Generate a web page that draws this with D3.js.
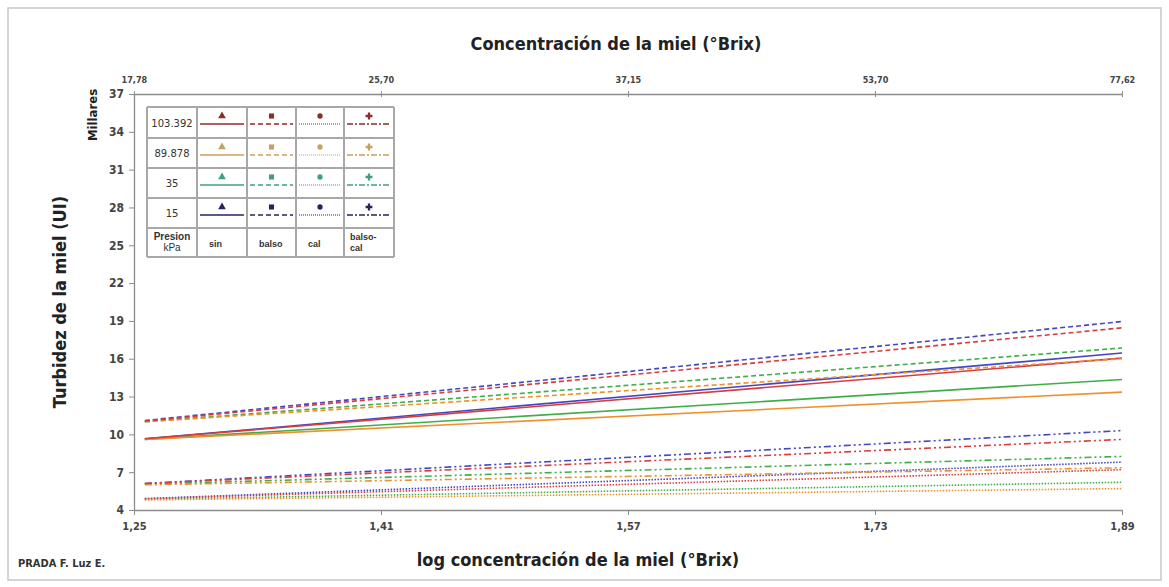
<!DOCTYPE html>
<html>
<head>
<meta charset="utf-8">
<script src="https://cdn.jsdelivr.net/npm/d3@7"></script>
<style>
  body { margin: 0; background: #fff; }
  svg { display: block; }
  text { font-family: "Liberation Sans Narrow", "DejaVu Sans Condensed", sans-serif; }
</style>
</head>
<body>
<svg id="chart"></svg>
<script>
// data (y in millares de UI)
var pressures = ["15", "35", "89.878", "103.392"];
var treatments = ["sin", "balso", "cal", "balso-cal"];
var xLogRange = [1.257, 1.89];
var sinValues = [[9.65, 16.45], [9.6, 14.35], [9.6, 13.35], [9.65, 16.05]];
var balsoValues = [[11.1, 18.95], [11.0, 16.85], [11.0, 16.0], [11.05, 18.45]];
var calValues = [[4.9, 7.8], [4.85, 6.2], [4.8, 5.7], [4.9, 7.2]];
var balsoCalValues = [[6.1, 10.3], [6.05, 8.25], [6.0, 7.35], [6.1, 9.6]];
var bottomTicks = [1.25, 1.41, 1.57, 1.73, 1.89];
var topTicks = [17.78, 25.70, 37.15, 53.70, 77.62];
var yTicks = [4, 7, 10, 13, 16, 19, 22, 25, 28, 31, 34, 37];

var lineColors = ["#4646c4", "#3fae48", "#f0902c", "#d83c3c"];
var legendColors = ["#25255e", "#3fa07a", "#c8a060", "#8e2b2b"];
var dashes = [null, "5,3", "1.5,1.5", "7,3,2,3,2,3"];

var width = 1169, height = 587;
var margin = {top: 94, bottom: 77, left: 134, right: 47};

var svg = d3.select("#chart").attr("width", width).attr("height", height);

svg.append("rect")
    .attr("x", 8).attr("y", 8)
    .attr("width", 1153).attr("height", 572)
    .attr("fill", "#fff")
    .attr("stroke", "#c8c8c8")
    .attr("stroke-width", 1.5);

var xScale = d3.scaleLinear()
    .domain([1.25, 1.89])
    .range([margin.left, width - margin.right]);

var yScale = d3.scaleLinear()
    .domain([4, 37])
    .range([height - margin.bottom, margin.top]);

// axes
var xAxis = svg.append("g")
    .attr("transform", "translate(0," + (height - margin.bottom) + ")")
    .call(d3.axisBottom(xScale).tickValues(bottomTicks).tickSize(5).tickSizeOuter(0)
        .tickFormat(function (d) { return d3.format(".2f")(d).replace(".", ","); }));

var topAxis = svg.append("g")
    .attr("transform", "translate(0," + margin.top + ")")
    .call(d3.axisTop(xScale).tickValues(topTicks.map(function (d) { return Math.log10(d); }))
        .tickSize(3).tickSizeOuter(0)
        .tickFormat(function (d, i) { return d3.format(".2f")(topTicks[i]).replace(".", ","); }));
topAxis.selectAll(".tick line").attr("y2", 3).attr("y1", -3);

var yAxis = svg.append("g")
    .attr("transform", "translate(" + margin.left + ",0)")
    .call(d3.axisLeft(yScale).tickValues(yTicks).tickSize(5).tickSizeOuter(0));

[xAxis, topAxis, yAxis].forEach(function (g) {
    g.select(".domain").attr("stroke", "#8c8c8c").attr("stroke-width", 1.3);
    g.selectAll(".tick line").attr("stroke", "#8c8c8c");
});
xAxis.selectAll("text")
    .style("font-size", "11px").style("font-weight", "bold")
    .attr("fill", "#444").attr("dy", "1.1em");
topAxis.selectAll("text")
    .style("font-size", "9px").style("font-weight", "bold")
    .attr("fill", "#444").attr("dy", "-0.6em");
yAxis.selectAll("text")
    .style("font-size", "12px").style("font-weight", "bold")
    .attr("fill", "#444").attr("dx", "-2px");

// lines
var groups = [sinValues, balsoValues, calValues, balsoCalValues];
var line = d3.line()
    .x(function (d) { return xScale(d[0]); })
    .y(function (d) { return yScale(d[1]); });

groups.forEach(function (vals, t) {
    vals.forEach(function (v, p) {
        svg.append("path")
            .datum([[xLogRange[0], v[0]], [xLogRange[1], v[1]]])
            .attr("d", line)
            .attr("fill", "none")
            .attr("stroke", lineColors[p])
            .attr("stroke-width", 1.6)
            .attr("stroke-dasharray", dashes[t]);
    });
});

// titles
svg.append("text")
    .attr("x", 616).attr("y", 50)
    .attr("text-anchor", "middle")
    .style("font-size", "18px").style("font-weight", "bold")
    .attr("fill", "#222")
    .text("Concentración de la miel (°Brix)");

svg.append("text")
    .attr("x", 578).attr("y", 566)
    .attr("text-anchor", "middle")
    .style("font-size", "18px").style("font-weight", "bold")
    .attr("fill", "#222")
    .text("log concentración de la miel (°Brix)");

svg.append("text")
    .attr("transform", "translate(66,302)rotate(-90)")
    .attr("text-anchor", "middle")
    .style("font-size", "18px").style("font-weight", "bold")
    .attr("fill", "#222")
    .text("Turbidez de la miel  (UI)");

svg.append("text")
    .attr("transform", "translate(97,115)rotate(-90)")
    .attr("text-anchor", "middle")
    .style("font-size", "13px").style("font-weight", "bold")
    .attr("fill", "#222")
    .text("Millares");

svg.append("text")
    .attr("x", 18).attr("y", 567)
    .style("font-size", "11px").style("font-weight", "bold")
    .attr("fill", "#333")
    .text("PRADA F. Luz E.");

// legend table
var colX = [147, 197, 247, 296, 344, 394];
var rowY = [107, 138, 168, 198, 228, 257];
var rowLabels = ["103.392", "89.878", "35", "15"];
var legend = svg.append("g");

legend.append("rect")
    .attr("x", colX[0]).attr("y", rowY[0])
    .attr("width", colX[5] - colX[0]).attr("height", rowY[5] - rowY[0])
    .attr("fill", "#fff");

colX.forEach(function (x) {
    legend.append("line")
        .attr("x1", x).attr("x2", x).attr("y1", rowY[0]).attr("y2", rowY[5])
        .attr("stroke", "#a8a8a8").attr("stroke-width", 2);
});
rowY.forEach(function (y) {
    legend.append("line")
        .attr("x1", colX[0]).attr("x2", colX[5]).attr("y1", y).attr("y2", y)
        .attr("stroke", "#a8a8a8").attr("stroke-width", 2);
});

var symbols = [d3.symbolTriangle, d3.symbolSquare, d3.symbolCircle, d3.symbolCross];

rowLabels.forEach(function (lab, r) {
    var p = pressures.indexOf(lab);
    var y0 = rowY[r], y1 = rowY[r + 1];
    legend.append("text")
        .attr("x", (colX[0] + colX[1]) / 2).attr("y", (y0 + y1) / 2 + 4)
        .attr("text-anchor", "middle")
        .style("font-family", "DejaVu Sans, sans-serif")
        .style("font-size", "10px")
        .attr("fill", "#333")
        .text(lab);
    treatments.forEach(function (t, c) {
        var xa = colX[c + 1], xb = colX[c + 2];
        var cx = (xa + xb) / 2;
        legend.append("path")
            .attr("d", d3.symbol().type(symbols[c]).size(c === 2 ? 22 : 26))
            .attr("transform", "translate(" + cx + "," + (y0 + 9) + ")")
            .attr("fill", legendColors[p]);
        legend.append("line")
            .attr("x1", xa + 3).attr("x2", xb - 3)
            .attr("y1", y0 + 17).attr("y2", y0 + 17)
            .attr("stroke", legendColors[p])
            .attr("stroke-width", c === 2 ? 1 : 1.4)
            .attr("stroke-dasharray", c === 2 ? "1,1" : (c === 3 ? "6,2,2,2" : dashes[c]));
    });
});

var hdrY0 = rowY[4], hdrY1 = rowY[5];
var hdr = legend.append("text")
    .attr("text-anchor", "middle")
    .style("font-family", "Liberation Sans, sans-serif")
    .style("font-size", "10px").style("font-weight", "bold")
    .attr("fill", "#333");
hdr.append("tspan").attr("x", (colX[0] + colX[1]) / 2).attr("y", hdrY0 + 12).text("Presion");
hdr.append("tspan").attr("x", (colX[0] + colX[1]) / 2).attr("y", hdrY0 + 23).style("font-weight", "normal").text("kPa");

["sin", "balso", "cal"].forEach(function (t, c) {
    legend.append("text")
        .attr("x", colX[c + 1] + 12).attr("y", (hdrY0 + hdrY1) / 2 + 4)
        .style("font-family", "Liberation Sans, sans-serif")
        .style("font-size", "9px").style("font-weight", "bold")
        .attr("fill", "#333")
        .text(t);
});
var bc = legend.append("text")
    .style("font-family", "Liberation Sans, sans-serif")
    .style("font-size", "9px").style("font-weight", "bold")
    .attr("fill", "#333");
bc.append("tspan").attr("x", colX[4] + 6).attr("y", hdrY0 + 12).text("balso-");
bc.append("tspan").attr("x", colX[4] + 6).attr("y", hdrY0 + 23).text("cal");
</script>
</body>
</html>
